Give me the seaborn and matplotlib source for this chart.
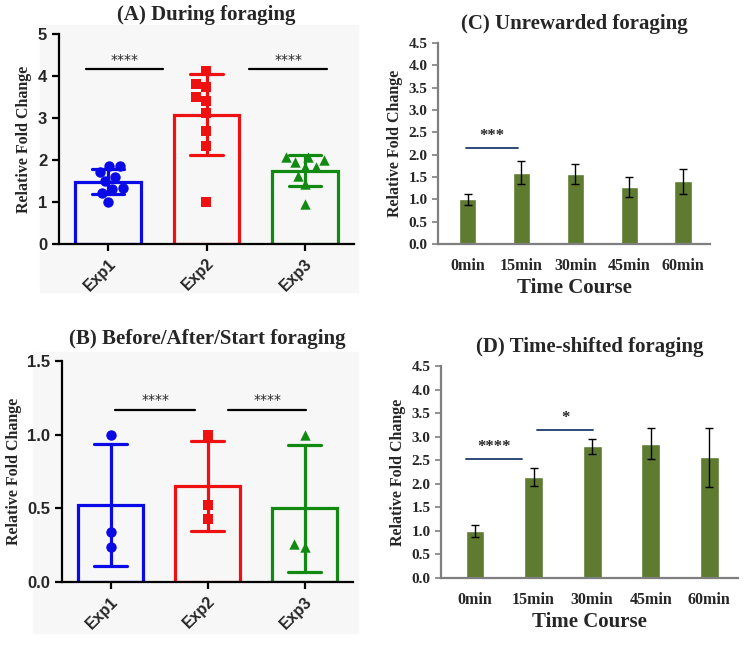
import pandas as pd
import numpy as np
import matplotlib
matplotlib.use('Agg')
import matplotlib.pyplot as plt
import seaborn as sns

# ---- data ----
exps = ['Exp1', 'Exp2', 'Exp3']
exp_colors = ['#0a0ae6', '#ee1111', '#128a12']
exp_markers = ['o', 's', '^']

# (A) during foraging, individual measurements
a_exp1 = [1.85, 1.85, 1.59, 1.71, 1.49, 1.33, 1.31, 1.21, 1.0]
a_exp2 = [4.13, 3.81, 3.74, 3.50, 3.40, 3.13, 2.70, 2.33, 1.0]
a_exp3 = [2.07, 1.95, 1.83, 1.83, 1.99, 2.07, 1.63, 1.43, 0.95]

# (B) before/after/start foraging
b_exp1 = [1.0, 0.336, 0.24]
b_exp2 = [1.0, 0.52, 0.43]
b_exp3 = [1.0, 0.237, 0.26]

times = ['0min', '15min', '30min', '45min', '60min']
c_mean = [1.00, 1.60, 1.57, 1.28, 1.40]
c_err = [0.12, 0.26, 0.23, 0.23, 0.28]
d_mean = [1.00, 2.14, 2.80, 2.85, 2.56]
d_err = [0.13, 0.19, 0.16, 0.33, 0.62]

bar_green = '#5e7b30'
sig_blue = '#2e4a7a'

sns.set_style('ticks')
plt.rcParams['font.family'] = ['Liberation Sans', 'DejaVu Sans']

fig = plt.figure(figsize=(7.5, 6.45), dpi=100)
W, H = 750, 645


def box(l, t, r, b):
    return [l / W, 1 - b / H, (r - l) / W, (b - t) / H]


# light grey panels behind A and B
for l, t, r, b in [(40, 25, 358, 292), (33, 352, 358, 633)]:
    fig.patches.append(plt.Rectangle((l / W, 1 - b / H), (r - l) / W, (b - t) / H,
                                     transform=fig.transFigure, color='#f7f7f7', zorder=-5))


def scatter_panel(ax, groups, ymax, yticks, ylabels, title, sig, tpad):
    df = pd.DataFrame({'exp': np.repeat(exps, [len(g) for g in groups]),
                       'val': np.concatenate(groups)})
    sns.barplot(data=df, x='exp', y='val', hue='exp', order=exps, palette=exp_colors,
                fill=False, errorbar='sd', capsize=0.33, width=0.67, linewidth=2.3,
                err_kws={'linewidth': 2.3}, legend=False, ax=ax)
    for line, col in zip(ax.lines, exp_colors):
        line.set_color(col)
    for name, col, mk in zip(exps, exp_colors, exp_markers):
        sns.swarmplot(data=df[df.exp == name], x='exp', y='val', order=exps, color=col,
                      marker=mk, size=7.5, linewidth=0, ax=ax, zorder=5)
    for x0, x1, y in sig:
        ax.plot([x0, x1], [y, y], color='black', lw=1.6)
        ax.text((x0 + x1) / 2, y + ymax * 0.01, '****', ha='center', va='bottom',
                fontsize=10, family='DejaVu Sans')
    ax.set_xlim(-0.5, 2.5)
    ax.set_ylim(0, ymax)
    ax.set_yticks(yticks)
    ax.set_yticklabels(ylabels, fontsize=12, fontweight='bold')
    ax.set_xticks(range(3))
    ax.set_xticklabels(exps, rotation=45, ha='right', rotation_mode='anchor',
                       fontsize=11.5, fontweight='bold')
    ax.set_xlabel('')
    ax.set_ylabel('Relative Fold Change', family='Liberation Serif', fontweight='bold',
                  fontsize=11.5)
    ax.set_facecolor('#f7f7f7')
    sns.despine(ax=ax)
    for s in ['left', 'bottom']:
        ax.spines[s].set_linewidth(1.6)
        ax.spines[s].set_color('black')
    ax.tick_params(width=1.6, length=5, color='black')
    ax.set_title(title, family='Liberation Serif', fontweight='bold', fontsize=15, pad=tpad)


def time_panel(ax, means, errs, title, sig):
    df = pd.DataFrame({'time': times, 'val': means})
    sns.barplot(data=df, x='time', y='val', color=bar_green, saturation=1, width=0.32,
                errorbar=None, ax=ax)
    ax.errorbar(range(len(times)), means, yerr=errs, fmt='none', ecolor='black',
                elinewidth=1, capsize=3, capthick=1)
    for x0, x1, y, stars in sig:
        ax.plot([x0, x1], [y, y], color=sig_blue, lw=1.4)
        ax.text((x0 + x1) / 2, y + 0.08, stars, ha='center', va='bottom', fontsize=12,
                family='Liberation Serif', fontweight='bold')
    ax.set_ylim(0, 4.5)
    ax.set_yticks(np.arange(0, 4.51, 0.5))
    ax.set_yticklabels([f'{v:.1f}' for v in np.arange(0, 4.51, 0.5)],
                       family='Liberation Serif', fontweight='bold', fontsize=11)
    ax.set_xticks(range(len(times)))
    ax.set_xticklabels(times, family='Liberation Serif', fontweight='bold', fontsize=11.5)
    ax.set_xlabel('Time Course', family='Liberation Serif', fontweight='bold',
                  fontsize=15, labelpad=3)
    ax.set_ylabel('Relative Fold Change', family='Liberation Serif', fontweight='bold',
                  fontsize=11.5)
    ax.set_facecolor('white')
    sns.despine(ax=ax)
    for s in ['left', 'bottom']:
        ax.spines[s].set_linewidth(1.6)
        ax.spines[s].set_color('#7f7f7f')
    ax.tick_params(axis='y', width=1.2, length=4, color='#7f7f7f')
    ax.tick_params(axis='x', length=0, pad=10)
    ax.set_title(title, family='Liberation Serif', fontweight='bold', fontsize=15, pad=10)


axA = fig.add_axes(box(59, 34, 354, 244))
scatter_panel(axA, [a_exp1, a_exp2, a_exp3], 5, range(6), [str(i) for i in range(6)],
              '(A) During foraging', [(-0.23, 0.56, 4.17), (1.43, 2.23, 4.17)], 10)

axB = fig.add_axes(box(62, 361, 353, 582))
scatter_panel(axB, [b_exp1, b_exp2, b_exp3], 1.5, [0, 0.5, 1.0, 1.5],
              ['0.0', '0.5', '1.0', '1.5'], '(B) Before/After/Start foraging',
              [(0.05, 0.87, 1.17), (1.21, 2.02, 1.17)], 12)

axC = fig.add_axes(box(438, 43, 710, 244))
time_panel(axC, c_mean, c_err, '(C) Unrewarded foraging', [(-0.03, 0.94, 2.16, '***')])
axC.set_xlim(-0.55, 4.5)

axD = fig.add_axes(box(441, 366, 738, 578))
time_panel(axD, d_mean, d_err, '(D) Time-shifted foraging',
           [(-0.15, 0.8, 2.53, '****'), (1.06, 2.02, 3.14, '*')])
axD.set_xlim(-0.58, 4.49)

fig.savefig('out.png', dpi=100)
